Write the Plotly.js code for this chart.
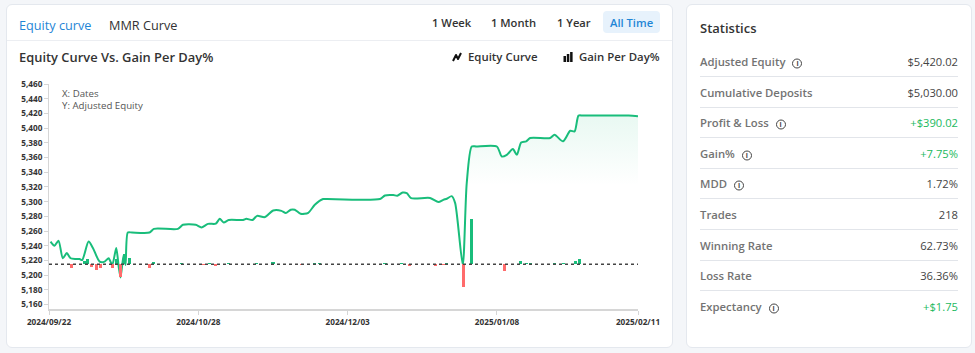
<!DOCTYPE html>
<html>
<head>
<meta charset="utf-8">
<script src="https://cdn.plot.ly/plotly-3.0.1.min.js"></script>
<style>
  html, body { margin:0; padding:0; }
  body { width:975px; height:353px; background:#f4f6f9; font-family:"Open Sans", sans-serif; position:relative; overflow:hidden; }
  .card { position:absolute; background:#fff; border:1px solid #e4e8ee; border-radius:6px; box-sizing:border-box; }
  .abs { position:absolute; white-space:nowrap; }
  .tab { font-size:12.7px; color:#333; top:11px; }
  .btn { font-size:11.2px; font-weight:600; color:#333; top:10px; }
  .sep { position:absolute; height:1px; background:#e2e5ea; }
  .lbl { position:absolute; left:13px; font-size:11.3px; font-weight:600; color:#737373; transform:translateY(-50%); }
  .val { position:absolute; right:13px; font-size:11.2px; color:#444; transform:translateY(-50%); }
  .info { display:inline-block; width:8px; height:8px; border:1.3px solid #444; border-radius:50%; font-size:7px; line-height:8px; text-align:center; color:#444; font-weight:700; margin-left:7px; vertical-align:0px; }
</style>
</head>
<body>
<div class="card" style="left:6px; top:4px; width:667px; height:344px;">
  <div class="abs tab" style="left:12px; color:#1f86d6;">Equity curve</div>
  <div class="abs tab" style="left:102px;">MMR Curve</div>
  <div class="abs btn" style="left:425px;">1 Week</div>
  <div class="abs btn" style="left:484px;">1 Month</div>
  <div class="abs btn" style="left:550px;">1 Year</div>
  <div class="abs" style="left:596px; top:6px; width:57px; height:22px; background:#e7f2fc; border-radius:4px;"></div>
  <div class="abs btn" style="left:603px; color:#1f86d6;">All Time</div>
  <div class="sep" style="left:0; top:35px; width:665px; background:#eceef2;"></div>
  <div class="abs" style="left:12px; top:43px; font-size:12.9px; font-weight:600; color:#333;">Equity Curve Vs. Gain Per Day%</div>
  <div class="abs" style="left:445px; top:44px; font-size:11.4px; font-weight:600; color:#333;">
    <svg width="10" height="10" viewBox="0 0 10 10" style="vertical-align:-1px; margin-right:6px;"><polyline points="1,9 4,3 6,7 9,1" fill="none" stroke="#111" stroke-width="2" stroke-linejoin="round"/></svg>Equity Curve
  </div>
  <div class="abs" style="left:556px; top:44px; font-size:11.4px; font-weight:600; color:#333;">
    <svg width="10" height="10" viewBox="0 0 10 10" style="vertical-align:-1px; margin-right:6px;"><rect x="0.5" y="4" width="2.5" height="6" fill="#111"/><rect x="3.8" y="2" width="2.5" height="8" fill="#111"/><rect x="7.1" y="0" width="2.5" height="10" fill="#111"/></svg>Gain Per Day%
  </div>
  <div class="abs" style="left:55px; top:83px; font-size:9.7px; color:#555; line-height:11.8px;">X: Dates<br>Y: Adjusted Equity</div>
</div>

<div class="card" style="left:686px; top:4px; width:286px; height:344px;">
  <div class="abs" style="left:13px; top:14px; font-size:13px; font-weight:600; color:#333;">Statistics</div>
  <div id="stats"></div>
</div>

<div id="chart" style="position:absolute; left:6px; top:70px; width:666px; height:278px;"></div>

<script>
// ---- Data ----
const equityDates = [
 '2024-09-22 09:00','2024-09-23 08:00','2024-09-24 07:00','2024-09-25 08:00','2024-09-26 07:00',
 '2024-09-27 05:00','2024-09-28 10:00','2024-09-29 09:00','2024-09-30 00:00','2024-10-01 13:00',
 '2024-10-02 14:00','2024-10-04 05:00','2024-10-05 10:00','2024-10-06 09:00','2024-10-07 06:00',
 '2024-10-08 05:00','2024-10-08 19:00','2024-10-09 06:00','2024-10-10 00:00','2024-10-10 11:00',
 '2024-10-11 00:00','2024-10-12 00:00','2024-10-16 06:00','2024-10-17 07:00','2024-10-23 02:00','2024-10-24 07:00',
 '2024-10-27 09:00','2024-10-28 18:00','2024-10-30 08:00','2024-11-01 05:00','2024-11-02 04:00',
 '2024-11-03 03:00','2024-11-04 08:00','2024-11-07 19:00','2024-11-08 14:00','2024-11-10 01:00',
 '2024-11-11 04:00','2024-11-13 01:00','2024-11-15 01:00','2024-11-17 01:00','2024-11-18 02:00',
 '2024-11-19 07:00','2024-11-20 06:00','2024-11-21 16:00','2024-11-23 12:00','2024-11-25 02:00',
 '2024-11-27 02:00','2024-11-28 02:00','2024-12-10 19:00','2024-12-12 00:00','2024-12-14 00:00','2024-12-14 23:00',
 '2024-12-16 06:00','2024-12-17 06:00','2024-12-18 07:00','2024-12-22 21:00','2024-12-24 21:00',
 '2024-12-26 02:00','2024-12-26 22:00','2024-12-28 02:00','2024-12-28 22:00','2024-12-30 18:00',
 '2024-12-31 17:00','2025-01-01 22:00','2025-01-03 00:00','2025-01-07 23:00','2025-01-09 04:00','2025-01-10 09:00',
 '2025-01-11 20:00','2025-01-12 19:00','2025-01-13 20:00','2025-01-15 01:00','2025-01-16 00:00',
 '2025-01-20 20:00','2025-01-21 21:00','2025-01-23 22:00','2025-01-25 16:00','2025-01-26 17:00',
 '2025-01-27 16:00','2025-01-28 18:00','2025-02-08 18:00','2025-02-11 00:00'
];
const equityValues = [
 5245.7,5240,5247,5223,5230,
 5223,5222,5222,5220.5,5245.7,
 5237,5218.5,5218.5,5223,5214,
 5236.8,5212,5197,5227.6,5214,
 5258,5258,5258,5263,5263,5268.5,
 5268.5,5265,5269.8,5270,5276.6,
 5271.6,5275,5275,5276.6,5275,
 5280.7,5279,5288,5287.5,5284.4,
 5289,5289,5283.5,5284.8,5295.7,
 5303.5,5303.5,5303.5,5308.4,5309,5308,
 5312.4,5311.6,5304.8,5305,5299.4,
 5302.5,5304,5307.5,5298,5214,
 5325,5375,5375,5375,5361.4,5363.7,
 5371.5,5363.7,5380.5,5382,5386.5,
 5386.5,5391,5382,5396.4,5395.5,
 5417,5417,5417,5416
];
const gainDates = [
 '2024-09-27 09:00','2024-09-30 11:00','2024-10-01 07:00','2024-10-02 06:00','2024-10-03 10:00',
 '2024-10-04 09:00','2024-10-07 06:00','2024-10-08 07:00','2024-10-09 05:00','2024-10-10 06:00',
 '2024-10-11 10:00','2024-10-16 06:00','2024-10-17 07:00','2024-10-24 00:00','2024-10-29 03:00',
 '2024-10-30 18:00','2024-11-01 05:00','2024-11-04 04:00','2024-11-11 00:00','2024-11-15 00:00',
 '2024-11-21 22:00','2024-11-25 02:00','2024-11-26 07:00','2024-12-12 00:00','2024-12-16 00:00',
 '2024-12-18 00:00','2024-12-24 02:00','2024-12-26 02:00','2024-12-26 22:00','2024-12-30 22:00',
 '2025-01-01 22:00','2025-01-09 19:00','2025-01-13 18:00','2025-01-15 05:00','2025-01-16 00:00',
 '2025-01-21 19:00','2025-01-24 01:00','2025-01-26 21:00','2025-01-27 22:00'
];
const gainPercent = [
 -0.26,0.23,0.38,-0.18,-0.43,
 -0.30,-0.30,0.38,-0.94,0.78,
 0.50,-0.26,0.20,0.08,-0.08,
 0.08,-0.11,0.11,0.08,0.15,
 -0.08,0.11,0.11,0.11,0.08,
 -0.11,-0.11,-0.08,0.11,-1.69,
 3.40,-0.48,0.25,0.11,0.08,
 0.08,0.08,0.27,0.42
];
const xTickVals = ['2024-09-22','2024-10-28','2024-12-03','2025-01-08','2025-02-11'];
const xTickText = ['2024/09/22','2024/10/28','2024/12/03','2025/01/08','2025/02/11'];
const statLabels = ['Adjusted Equity','Cumulative Deposits','Profit & Loss','Gain%','MDD','Trades','Winning Rate','Loss Rate','Expectancy'];
const statValues = ['$5,420.02','$5,030.00','+$390.02','+7.75%','1.72%','218','62.73%','36.36%','+$1.75'];
const statInfo = [true,false,true,true,true,false,false,false,true];

// ---- Stats panel ----
(function(){
  const box = document.getElementById('stats');
  let html = '';
  statLabels.forEach((l,i)=>{
    const y = 56 + i*30.6;
    const pos = statValues[i].charAt(0) === '+';
    html += '<div class="lbl" style="top:'+y+'px">'+l.replace('&','&amp;')+(statInfo[i]?'<span class="info">i</span>':'')+'</div>';
    html += '<div class="val" style="top:'+y+'px;'+(pos?'color:#22b95e;':'')+'">'+statValues[i]+'</div>';
    if (i < statLabels.length-1) html += '<div class="sep" style="left:13px; right:13px; top:'+(y+15)+'px;"></div>';
  });
  box.innerHTML = html;
})();

// ---- Chart ----
const GREEN = '#19bd7b';
const RED = '#ff6b6b';
const BASE = 5215, YMIN = 5154, YMAX = 5460, K = 18;

const equityTrace = {
  type:'scatter', mode:'lines', x:equityDates, y:equityValues,
  line:{color:GREEN, width:2, shape:'spline', smoothing:0.7},
  fill:'tozeroy',
  fillgradient:{type:'vertical', start:5322, stop:5420,
    colorscale:[[0,'rgba(25,189,123,0)'],[1,'rgba(25,189,123,0.10)']]},
  hoverinfo:'skip'
};
const gainTrace = {
  type:'bar', x:gainDates, y:gainPercent, yaxis:'y2',
  width: 0.75*86400000,
  marker:{color: gainPercent.map(v => v >= 0 ? GREEN : RED)},
  hoverinfo:'skip'
};

const layout = {
  width:666, height:278,
  margin:{l:43, r:34, t:14, b:39},
  paper_bgcolor:'rgba(0,0,0,0)', plot_bgcolor:'rgba(0,0,0,0)',
  showlegend:false,
  font:{family:'Open Sans', size:8, color:'#333'},
  xaxis:{
    type:'date', range:['2024-09-22','2025-02-11'],
    tickvals:xTickVals, ticktext:xTickText,
    showgrid:false, zeroline:false,
    showline:true, linecolor:'#d6d6d6', linewidth:2,
    ticks:'outside', ticklen:4, tickcolor:'#d6d6d6',
    tickfont:{size:8.2, color:'#333', weight:700}
  },
  yaxis:{
    range:[YMIN, YMAX], tickmode:'linear', tick0:5160, dtick:20, tickformat:',d',
    showgrid:false, zeroline:false,
    showline:true, linecolor:'#d6d6d6', linewidth:1,
    ticks:'outside', ticklen:4, tickcolor:'#d6d6d6',
    tickfont:{size:8.2, color:'#333', weight:700}
  },
  yaxis2:{
    overlaying:'y', visible:false,
    range:[(YMIN-BASE)/K, (YMAX-BASE)/K]
  },
  bargap:0,
  shapes:[{type:'line', xref:'paper', x0:0, x1:1, yref:'y', y0:BASE, y1:BASE,
    line:{color:'#444', width:1.5, dash:'dot'}, layer:'above'}]
};

Plotly.newPlot('chart', [equityTrace, gainTrace], layout, {staticPlot:true, displayModeBar:false});
</script>
</body>
</html>
